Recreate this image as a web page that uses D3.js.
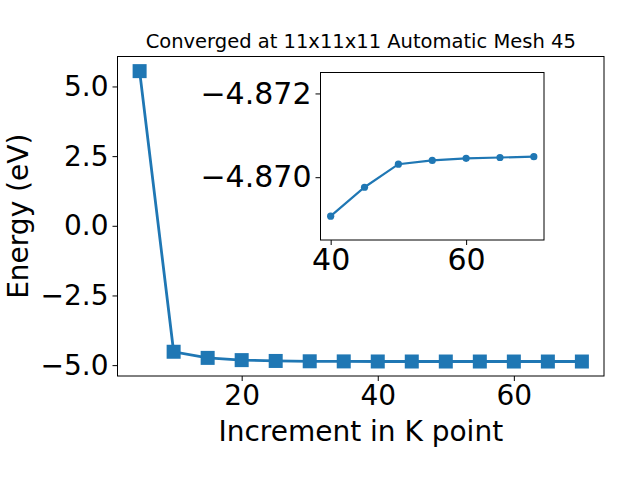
<!DOCTYPE html>
<html>
<head>
<meta charset="utf-8">
<script src="https://cdn.jsdelivr.net/npm/d3@7"></script>
<style>
body { margin: 0; background: #fff; }
text { font-family: "DejaVu Sans", sans-serif; fill: #000; }
</style>
</head>
<body>
<script>
const COLOR = "#1f77b4"

// main series: k point increment vs energy
const kPoints = [5, 10, 15, 20, 25, 30, 35, 40, 45, 50, 55, 60, 65, 70]
const energy = [5.55, -4.52, -4.74, -4.82, -4.85, -4.862, -4.866, -4.8691, -4.8698, -4.8703, -4.8704, -4.87045, -4.87047, -4.87049]

// inset: zoom on the converged part
const insetK = [40, 45, 50, 55, 60, 65, 70]
const insetE = [-4.86907, -4.86976, -4.87031, -4.8704, -4.87045, -4.87047, -4.87049]

const mainXTicks = [20, 40, 60]
const mainYTicks = [5.0, 2.5, 0.0, -2.5, -5.0]
const insetXTicks = [40, 60]
const insetYTicks = [-4.872, -4.870]

let width = 640, height = 480;
let svg = d3.select("body").append("svg").attr("width", width).attr("height", height);

const fmt = v => d3.format(".1f")(v).replace("-", "\u2212");
const fmt3 = v => d3.format(".3f")(v).replace("-", "\u2212");

// main axes
let m = {left: 117.5, top: 56.5, right: 604, bottom: 376};
let x = d3.scaleLinear().domain([1.75, 73.25]).range([m.left, m.right]);
let y = d3.scaleLinear().domain([-5.39, 6.075]).range([m.bottom, m.top]);

let g = svg.append("g");
g.append("g").attr("transform", `translate(0,${m.bottom})`)
    .call(d3.axisBottom(x).tickValues(mainXTicks).tickSize(5).tickPadding(4).tickFormat(d3.format("d")))
    .call(a => a.select(".domain").remove())
    .selectAll("text").attr("font-size", 28);
g.append("g").attr("transform", `translate(${m.left},0)`)
    .call(d3.axisLeft(y).tickValues(mainYTicks).tickSize(5).tickPadding(4).tickFormat(fmt))
    .call(a => a.select(".domain").remove())
    .selectAll("text").attr("font-size", 28);
svg.selectAll(".tick line").attr("stroke", "#000").attr("stroke-width", 1);

let line = d3.line().x((d, i) => x(kPoints[i])).y(d => y(d));
g.append("path").datum(energy).attr("d", line).attr("fill", "none")
    .attr("stroke", COLOR).attr("stroke-width", 2.8);
g.selectAll("rect.mk").data(energy).join("rect").attr("class", "mk")
    .attr("x", (d, i) => x(kPoints[i]) - 7).attr("y", d => y(d) - 7)
    .attr("width", 14).attr("height", 14).attr("fill", COLOR);

g.append("rect").attr("x", m.left).attr("y", m.top)
    .attr("width", m.right - m.left).attr("height", m.bottom - m.top)
    .attr("fill", "none").attr("stroke", "#000").attr("stroke-width", 1);

svg.append("text").attr("x", (m.left + m.right) / 2).attr("y", 48)
    .attr("text-anchor", "middle").attr("font-size", 19.5)
    .text("Converged at 11x11x11 Automatic Mesh 45");
svg.append("text").attr("x", (m.left + m.right) / 2).attr("y", 441)
    .attr("text-anchor", "middle").attr("font-size", 28)
    .text("Increment in K point");
svg.append("text").attr("transform", `translate(28,${(m.top + m.bottom) / 2}) rotate(-90)`)
    .attr("text-anchor", "middle").attr("font-size", 28)
    .text("Energy (eV)");

// inset axes (y inverted)
let n = {left: 320.5, top: 72.5, right: 544, bottom: 240};
let xi = d3.scaleLinear().domain([38.5, 71.5]).range([n.left, n.right]);
let yi = d3.scaleLinear().domain([-4.8725, -4.8685]).range([n.top, n.bottom]);

let gi = svg.append("g");
gi.append("rect").attr("x", n.left).attr("y", n.top)
    .attr("width", n.right - n.left).attr("height", n.bottom - n.top)
    .attr("fill", "#fff");
gi.append("g").attr("transform", `translate(0,${n.bottom})`)
    .call(d3.axisBottom(xi).tickValues(insetXTicks).tickSize(5).tickPadding(4).tickFormat(d3.format("d")))
    .call(a => a.select(".domain").remove())
    .selectAll("text").attr("font-size", 30);
gi.append("g").attr("transform", `translate(${n.left},0)`)
    .call(d3.axisLeft(yi).tickValues(insetYTicks).tickSize(5).tickPadding(4).tickFormat(fmt3))
    .call(a => a.select(".domain").remove())
    .selectAll("text").attr("font-size", 30);
gi.selectAll(".tick line").attr("stroke", "#000").attr("stroke-width", 1);

let lineI = d3.line().x((d, i) => xi(insetK[i])).y(d => yi(d));
gi.append("path").datum(insetE).attr("d", lineI).attr("fill", "none")
    .attr("stroke", COLOR).attr("stroke-width", 2.2);
gi.selectAll("circle").data(insetE).join("circle")
    .attr("cx", (d, i) => xi(insetK[i])).attr("cy", d => yi(d))
    .attr("r", 3.6).attr("fill", COLOR);
gi.append("rect").attr("x", n.left).attr("y", n.top)
    .attr("width", n.right - n.left).attr("height", n.bottom - n.top)
    .attr("fill", "none").attr("stroke", "#000").attr("stroke-width", 1);
</script>
</body>
</html>
